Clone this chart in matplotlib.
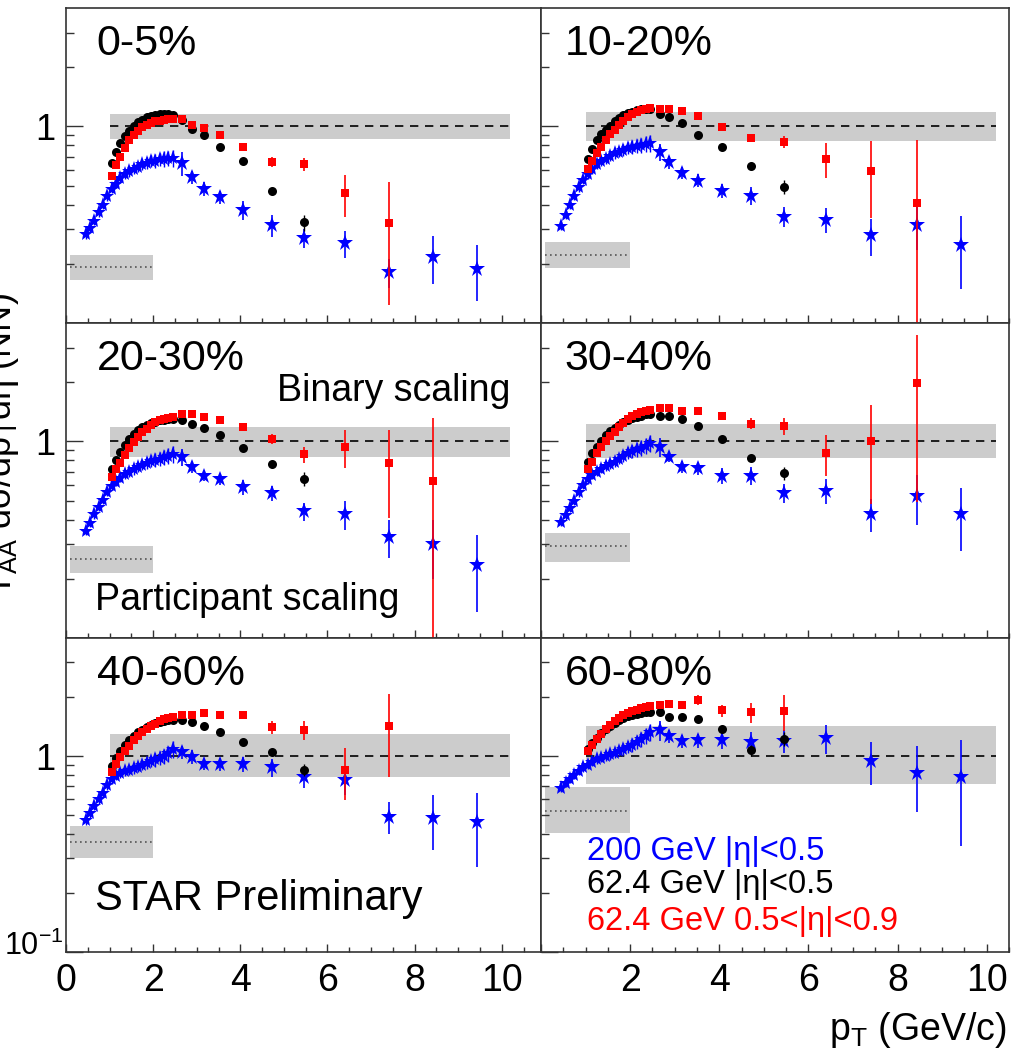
import numpy as np
import matplotlib
matplotlib.use("Agg")
import matplotlib.pyplot as plt
import matplotlib.transforms as mtransforms
from matplotlib.ticker import MultipleLocator, FixedLocator, FuncFormatter, NullFormatter

plt.rcParams['font.family'] = ['Liberation Sans', 'DejaVu Sans']
plt.rcParams['mathtext.fontset'] = 'custom'
plt.rcParams['mathtext.rm'] = 'Liberation Sans'
plt.rcParams['mathtext.it'] = 'Liberation Sans:italic'
plt.rcParams['mathtext.bf'] = 'Liberation Sans:bold'

W, H = 1027, 1054

centralities = ['0-5%', '10-20%', '20-30%', '30-40%', '40-60%', '60-80%']

# pT bin centres (GeV/c)
pt_200_low = [0.45, 0.55, 0.65, 0.75, 0.85, 0.95, 1.05, 1.15, 1.25, 1.35, 1.45,
              1.55, 1.65, 1.75, 1.85, 1.95, 2.05, 2.15, 2.25, 2.35, 2.45]
pt_62_low = [1.05, 1.15, 1.25, 1.35, 1.45, 1.55, 1.65, 1.75, 1.85, 1.95,
             2.05, 2.15, 2.25, 2.35, 2.45]
pt_high = [2.66, 2.88, 3.16, 3.53, 4.06, 4.72, 5.46, 6.4, 7.41, 8.43, 9.43]

# 200 GeV |eta|<0.5
au200_low = [
    [0.283, 0.305, 0.33, 0.365, 0.40, 0.44, 0.48, 0.51, 0.545, 0.57, 0.59,
     0.61, 0.625, 0.64, 0.655, 0.665, 0.67, 0.68, 0.685, 0.69, 0.69],
    [0.313, 0.355, 0.40, 0.445, 0.49, 0.535, 0.57, 0.605, 0.64, 0.665, 0.685,
     0.71, 0.73, 0.745, 0.76, 0.775, 0.785, 0.795, 0.805, 0.815, 0.825],
    [0.35, 0.385, 0.425, 0.465, 0.505, 0.555, 0.595, 0.625, 0.655, 0.68, 0.70,
     0.72, 0.745, 0.76, 0.78, 0.795, 0.805, 0.815, 0.83, 0.845, 0.86],
    [0.39, 0.42, 0.46, 0.50, 0.55, 0.60, 0.64, 0.675, 0.70, 0.725, 0.75,
     0.77, 0.79, 0.815, 0.84, 0.87, 0.89, 0.91, 0.93, 0.95, 0.98],
    [0.47, 0.51, 0.555, 0.60, 0.65, 0.71, 0.76, 0.79, 0.815, 0.835, 0.85,
     0.865, 0.88, 0.90, 0.92, 0.94, 0.96, 0.98, 1.00, 1.03, 1.08],
    [0.69, 0.73, 0.765, 0.80, 0.84, 0.875, 0.90, 0.935, 0.96, 0.98, 1.00,
     1.02, 1.04, 1.06, 1.09, 1.11, 1.14, 1.18, 1.22, 1.27, 1.32],
]
au200_low_relerr = [0.05, 0.05, 0.05, 0.05, 0.05, 0.05, 0.05, 0.05, 0.05, 0.05, 0.06,
                    0.06, 0.06, 0.06, 0.07, 0.07, 0.08, 0.08, 0.09, 0.09, 0.10]
au200_high = [
    [0.65, 0.552, 0.481, 0.436, 0.376, 0.315, 0.27, 0.255, 0.181, 0.217, 0.189],
    [0.74, 0.658, 0.578, 0.53, 0.47, 0.445, 0.347, 0.336, 0.279, 0.316, 0.249],
    [0.83, 0.74, 0.666, 0.641, 0.586, 0.546, 0.44, 0.425, 0.326, 0.30, 0.236],
    [0.936, 0.833, 0.742, 0.728, 0.668, 0.668, 0.544, 0.561, 0.427, 0.527, 0.427],
    [1.05, 0.99, 0.908, 0.908, 0.908, 0.874, 0.778, 0.755, 0.49, 0.48, 0.46],
    [1.35, 1.26, 1.19, 1.20, 1.20, 1.18, 1.19, 1.23, 0.944, 0.82, 0.779],
]
au200_high_err = [
    [0.09, 0.04, 0.04, 0.035, 0.04, 0.04, 0.03, 0.04, 0.03, 0.06, 0.06],
    [0.07, 0.05, 0.04, 0.04, 0.04, 0.045, 0.04, 0.05, 0.06, 0.08, 0.10],
    [0.08, 0.05, 0.04, 0.04, 0.05, 0.05, 0.045, 0.07, 0.07, 0.10, 0.10],
    [0.10, 0.05, 0.05, 0.05, 0.06, 0.07, 0.06, 0.08, 0.08, 0.15, 0.15],
    [0.08, 0.08, 0.06, 0.07, 0.08, 0.09, 0.09, 0.12, 0.09, 0.15, 0.19],
    [0.16, 0.09, 0.09, 0.10, 0.12, 0.15, 0.16, 0.21, 0.23, 0.30, 0.43],
]

# 62.4 GeV |eta|<0.5
au62_mid_low = [
    [0.65, 0.74, 0.82, 0.89, 0.95, 1.00, 1.05, 1.08, 1.11, 1.13, 1.14, 1.15, 1.15, 1.15, 1.14],
    [0.68, 0.77, 0.85, 0.91, 0.96, 1.01, 1.06, 1.10, 1.14, 1.17, 1.19, 1.21, 1.22, 1.23, 1.22],
    [0.72, 0.80, 0.88, 0.96, 1.03, 1.09, 1.14, 1.18, 1.21, 1.24, 1.26, 1.28, 1.29, 1.30, 1.30],
    [0.79, 0.87, 0.94, 1.01, 1.08, 1.13, 1.17, 1.21, 1.25, 1.28, 1.31, 1.33, 1.35, 1.37, 1.38],
    [0.89, 0.98, 1.06, 1.14, 1.21, 1.27, 1.32, 1.36, 1.40, 1.44, 1.47, 1.49, 1.51, 1.52, 1.53],
    [1.08, 1.16, 1.24, 1.31, 1.37, 1.43, 1.48, 1.52, 1.56, 1.60, 1.62, 1.64, 1.66, 1.67, 1.67],
]
au62_mid_high = [
    [1.08, 0.973, 0.90, 0.79, 0.663, 0.468, 0.325],
    [1.15, 1.12, 1.04, 0.90, 0.79, 0.628, 0.494],
    [1.28, 1.22, 1.17, 1.08, 0.925, 0.764, 0.646],
    [1.35, 1.34, 1.30, 1.20, 1.03, 0.824, 0.687],
    [1.52, 1.49, 1.43, 1.33, 1.18, 1.05, 0.85],
    [1.68, 1.59, 1.59, 1.55, 1.38, 1.07, 1.22],
]
au62_mid_high_err = [
    [0.02, 0.02, 0.02, 0.02, 0.02, 0.02, 0.03],
    [0.02, 0.02, 0.02, 0.02, 0.02, 0.03, 0.04],
    [0.02, 0.02, 0.02, 0.02, 0.03, 0.03, 0.05],
    [0.02, 0.02, 0.02, 0.03, 0.03, 0.03, 0.05],
    [0.03, 0.03, 0.03, 0.03, 0.03, 0.04, 0.06],
    [0.03, 0.03, 0.03, 0.04, 0.05, 0.07, 0.10],
]

# 62.4 GeV 0.5<|eta|<0.9
au62_fwd_low = [
    [0.56, 0.635, 0.70, 0.78, 0.85, 0.90, 0.95, 0.99, 1.02, 1.04, 1.06, 1.07, 1.08, 1.09, 1.09],
    [0.61, 0.67, 0.73, 0.79, 0.85, 0.91, 0.96, 1.02, 1.07, 1.12, 1.15, 1.18, 1.21, 1.23, 1.24],
    [0.66, 0.72, 0.78, 0.85, 0.92, 0.99, 1.05, 1.11, 1.16, 1.21, 1.25, 1.28, 1.30, 1.32, 1.33],
    [0.72, 0.79, 0.87, 0.94, 1.01, 1.07, 1.12, 1.18, 1.24, 1.30, 1.34, 1.38, 1.41, 1.43, 1.45],
    [0.83, 0.91, 0.99, 1.06, 1.13, 1.20, 1.26, 1.32, 1.37, 1.42, 1.46, 1.50, 1.54, 1.57, 1.59],
    [1.06, 1.14, 1.22, 1.30, 1.37, 1.44, 1.51, 1.57, 1.62, 1.66, 1.69, 1.72, 1.75, 1.77, 1.79],
]
au62_fwd_high = [
    [1.085, 1.02, 0.985, 0.90, 0.79, 0.658, 0.643, 0.457, 0.324],
    [1.23, 1.22, 1.20, 1.13, 0.99, 0.875, 0.832, 0.684, 0.592, 0.41],
    [1.38, 1.37, 1.33, 1.28, 1.18, 1.03, 0.86, 0.936, 0.779, 0.629],
    [1.47, 1.48, 1.43, 1.42, 1.35, 1.23, 1.20, 0.873, 1.01, 1.98],
    [1.62, 1.62, 1.65, 1.62, 1.62, 1.40, 1.36, 0.847, 1.42],
    [1.81, 1.85, 1.83, 1.93, 1.71, 1.67, 1.69],
]
au62_fwd_high_err = [
    [0.02, 0.02, 0.02, 0.03, 0.03, 0.04, 0.05, 0.11, 0.20],
    [0.04, 0.04, 0.04, 0.05, 0.03, 0.04, 0.06, 0.14, 0.25, 0.44],
    [0.03, 0.03, 0.03, 0.03, 0.04, 0.06, 0.08, 0.20, 0.37, 0.69],
    [0.03, 0.03, 0.03, 0.04, 0.05, 0.08, 0.12, 0.21, 0.53, 1.49],
    [0.03, 0.03, 0.04, 0.04, 0.06, 0.10, 0.15, 0.25, 0.64],
    [0.04, 0.05, 0.06, 0.12, 0.12, 0.20, 0.35],
]

# binary-scaling uncertainty box and participant-scaling level
ncoll_box_x = [1.0, 10.2]
ncoll_lo = [0.86, 0.84, 0.83, 0.82, 0.78, 0.72]
ncoll_hi = [1.15, 1.18, 1.18, 1.22, 1.29, 1.42]
npart_box_x = [0.1, 2.0]
npart_level = [0.193, 0.222, 0.253, 0.295, 0.364, 0.524]
npart_lo = [0.166, 0.19, 0.215, 0.244, 0.30, 0.405]
npart_hi = [0.222, 0.259, 0.295, 0.34, 0.44, 0.695]

legend_lines = ['200 GeV |η|<0.5', '62.4 GeV |η|<0.5', '62.4 GeV 0.5<|η|<0.9']
legend_colors = ['blue', 'black', 'red']

# pad geometry in pixels: (left, right, xmax) per column, (top, bottom) per row
cols = [(66, 541, 10.9), (541, 1009, 10.5)]
rows = [(8, 323), (323, 638), (638, 952)]
minor_y = [0.2, 0.3, 0.4, 0.5, 0.6, 0.7, 0.8, 0.9, 2, 3]


def clipped(vals, errs):
    vals = np.asarray(vals)
    errs = np.asarray(errs)
    return [np.minimum(errs, 0.98 * vals), errs]


fig = plt.figure(figsize=(W / 100, H / 100), dpi=100)

for i, cent in enumerate(centralities):
    r, c = divmod(i, 2)
    x0, x1, xmax = cols[c]
    y0, y1 = rows[r]
    ax = fig.add_axes([x0 / W, 1 - y1 / H, (x1 - x0) / W, (y1 - y0) / H])
    ax.set_yscale('log')
    ax.set_xlim(0, xmax)
    ax.set_ylim(0.1, 4.0)

    # scaling references
    ax.fill_between(ncoll_box_x, ncoll_lo[i], ncoll_hi[i], color='#cccccc', lw=0, zorder=1)
    ax.plot(ncoll_box_x, [1, 1], ls=(0, (5, 4)), color='black', lw=1.2, zorder=2)
    ax.fill_between(npart_box_x, npart_lo[i], npart_hi[i], color='#cccccc', lw=0, zorder=1)
    ax.plot(npart_box_x, [npart_level[i]] * 2, ls=(0, (1, 2)), color='#555555', lw=1.2, zorder=2)

    # 200 GeV
    lo = np.asarray(au200_low[i])
    ax.errorbar(pt_200_low, lo, yerr=lo * np.asarray(au200_low_relerr), fmt='*',
                color='blue', ms=11, mew=0, elinewidth=1, capsize=2.5, capthick=1, zorder=4)
    hi = au200_high[i]
    ax.errorbar(pt_high[:len(hi)], hi, yerr=clipped(hi, au200_high_err[i]), fmt='*',
                color='blue', ms=12, mew=0, elinewidth=1.2, capsize=3, capthick=1.1, zorder=4)

    # 62.4 GeV mid-rapidity
    ax.plot(pt_62_low, au62_mid_low[i], 'o', color='black', ms=6.5, mew=0, zorder=5)
    hi = au62_mid_high[i]
    ax.errorbar(pt_high[:len(hi)], hi, yerr=clipped(hi, au62_mid_high_err[i]), fmt='o',
                color='black', ms=6.5, mew=0, elinewidth=1, capsize=2.5, capthick=1, zorder=5)

    # 62.4 GeV forward
    ax.plot(pt_62_low, au62_fwd_low[i], 's', color='red', ms=6, mew=0, zorder=6)
    hi = au62_fwd_high[i]
    ax.errorbar(pt_high[:len(hi)], hi, yerr=clipped(hi, au62_fwd_high_err[i]), fmt='s',
                color='red', ms=6, mew=0, elinewidth=1.2, capsize=2.5, capthick=1, zorder=6)

    # axes styling
    for sp in ax.spines.values():
        sp.set_linewidth(1.2)
        sp.set_color('#333333')
    ax.xaxis.set_major_locator(MultipleLocator(2))
    ax.xaxis.set_minor_locator(MultipleLocator(0.5))
    ax.yaxis.set_major_locator(FixedLocator([0.1, 1]))
    ax.yaxis.set_minor_locator(FixedLocator(minor_y))
    ax.yaxis.set_minor_formatter(NullFormatter())
    ax.tick_params(which='both', direction='in', top=False, right=False,
                   width=1, color='#333333')
    ax.tick_params(axis='x', which='major', length=6, pad=8, labelsize=27)
    ax.tick_params(axis='x', which='minor', length=3.5)
    ax.tick_params(axis='y', which='major', length=12, pad=8, labelsize=26)
    ax.tick_params(axis='y', which='minor', length=6)

    if r == 2:
        if c == 0:
            ax.xaxis.set_major_formatter(FuncFormatter(lambda v, p: '%d' % round(v)))
        else:
            ax.xaxis.set_major_formatter(FuncFormatter(lambda v, p: '' if v < 1 else '%d' % round(v)))
    else:
        ax.tick_params(axis='x', labelbottom=False)

    if c == 0:
        ax.set_yticklabels(['', '1'])
        if r == 2:
            # lower decade label sits tight against the frame
            trans = mtransforms.blended_transform_factory(ax.transAxes, ax.transData)
            ax.text(-0.006, 0.107, '$10^{-1}$', transform=trans, fontsize=22,
                    ha='right', va='center', clip_on=False)
    else:
        ax.tick_params(axis='y', labelleft=False)

    ax.text(0.065 if c == 0 else 0.051, 0.851, cent, transform=ax.transAxes,
            fontsize=31, ha='left', va='baseline', zorder=7)

    if i == 2:
        ax.text(0.935, 0.752, 'Binary scaling', transform=ax.transAxes,
                fontsize=27, ha='right', va='baseline')
        ax.text(0.061, 0.089, 'Participant scaling', transform=ax.transAxes,
                fontsize=27, ha='left', va='baseline')
    if i == 4:
        ax.text(0.061, 0.134, 'STAR Preliminary', transform=ax.transAxes,
                fontsize=30, ha='left', va='baseline')
    if i == 5:
        for txt, col, yy in zip(legend_lines, legend_colors, [0.293, 0.188, 0.070]):
            ax.text(0.098, yy, txt, transform=ax.transAxes, color=col,
                    fontsize=23.5, ha='left', va='baseline')

fig.text(1007 / W, 1 - 1040 / H, 'p$_{\\mathrm{T}}$ (GeV/c)', fontsize=27,
         ha='right', va='baseline')
fig.text(21 / W, 1 - 445 / H, 'T$_{\\mathrm{AA}}$ dσ/dp$_{\\mathrm{T}}$dη (NN)',
         fontsize=26, rotation=90, ha='right', va='center')

fig.savefig('out.png', dpi=100)
